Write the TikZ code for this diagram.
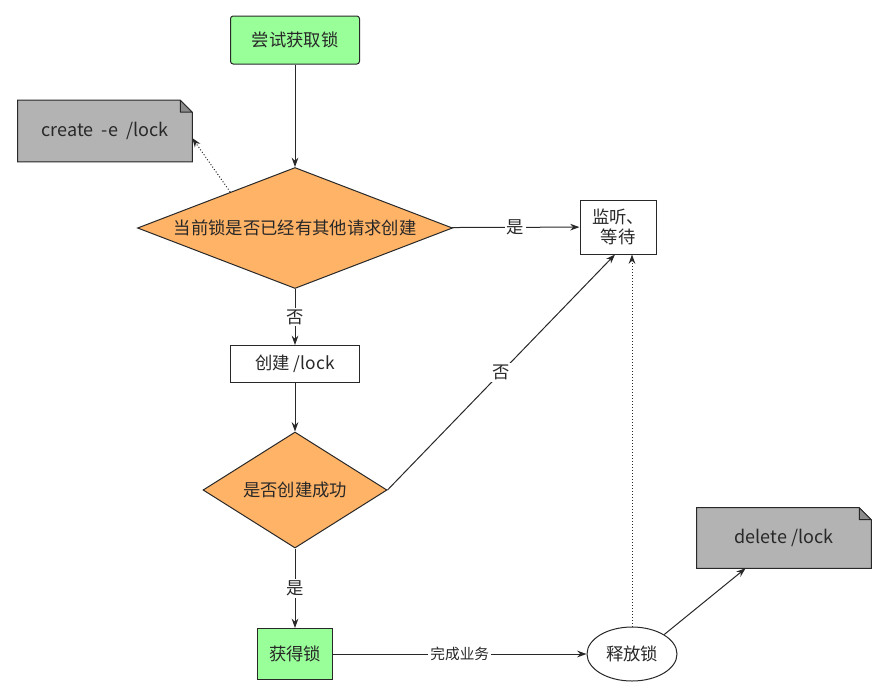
\documentclass[tikz,border=0pt]{standalone}
\usepackage{fontspec}
\setmainfont{Noto Sans CJK SC}
\usetikzlibrary{arrows.meta,shapes.geometric,calc,backgrounds}
\definecolor{lk_green}{RGB}{153, 255, 153}
\definecolor{lk_orange}{RGB}{255, 179, 102}
\definecolor{lk_gray}{RGB}{179, 179, 179}
\definecolor{lk_fold}{RGB}{140, 140, 140}
\definecolor{lk_line}{RGB}{40, 40, 40}
\tikzstyle{gb}=[rectangle,rounded corners=2pt,fill=lk_green,draw=lk_line,
  line width=0.75pt,inner sep=0pt,text=lk_line]
\tikzstyle{wb}=[rectangle,fill=white,draw=lk_line,
  line width=0.75pt,inner sep=0pt,text=lk_line]
\tikzstyle{od}=[diamond,fill=lk_orange,draw=lk_line,
  line width=0.75pt,inner sep=0pt,text=lk_line]
\tikzstyle{nt}=[rectangle,inner sep=0pt,text=lk_line]
\tikzstyle{el}=[ellipse,fill=white,draw=lk_line,
  line width=0.75pt,inner sep=0pt,text=lk_line]
\tikzstyle{ar}=[draw=lk_line,line width=0.75pt,-{Stealth[length=7pt,width=5pt]}]
\tikzstyle{dt}=[dash pattern=on 0.75pt off 1.5pt]
\tikzstyle{lb}=[fill=white,inner sep=1.5pt,text=lk_line]

\begin{document}
\begin{tikzpicture}[x=0.75pt, y=-0.75pt, font=\fontsize{13}{15}\selectfont]
        \useasboundingbox (0,0) rectangle (893,694);
		\node[style=gb, minimum width=96.75pt, minimum height=36pt] (try) at (295, 40) {尝试获取锁};
		\node[style=nt, minimum width=130.5pt, minimum height=45.75pt, font=\fontsize{13.5}{15}\selectfont] (cnote) at (105, 131) {create\ \ -e\ \ /lock};
		\node[style=od, shape aspect=2.6, minimum width=236.25pt, minimum height=90.75pt] (d1) at (295, 228) {当前锁是否已经有其他请求创建};
		\node[style=wb, minimum width=57pt, minimum height=40.5pt, align=center] (wait) at (618, 227) {监听、\\等待};
		\node[style=wb, minimum width=96.75pt, minimum height=27.75pt] (mk) at (295, 364) {创建 /lock};
		\node[style=od, shape aspect=1.59, minimum width=138pt, minimum height=87pt] (d2) at (295, 490) {是否创建成功};
		\node[style=gb, rounded corners=0pt, minimum width=56.25pt, minimum height=38.25pt] (got) at (295, 654) {获得锁};
		\node[style=el, minimum width=67.5pt, minimum height=40.5pt] (rel) at (632, 654) {释放锁};
		\node[style=nt, minimum width=130.5pt, minimum height=45pt, font=\fontsize{13.5}{15}\selectfont] (dnote) at (784, 538) {delete /lock};
		% note shapes behind the text
		\begin{scope}[on background layer]
		\foreach \n in {cnote, dnote} {
			\draw[fill=lk_gray, draw=lk_line, line width=0.75pt] (\n.south west) -- (\n.north west)
				-- ($(\n.north east)+(-12,0)$) -- ($(\n.north east)+(0,12)$) -- (\n.south east) -- cycle;
			\draw[fill=lk_fold, draw=lk_line, line width=0.75pt, line join=round] ($(\n.north east)+(-12,0)$)
				-- ($(\n.north east)+(-12,12)$) -- ($(\n.north east)+(0,12)$) -- cycle;
		}
		\end{scope}
		\draw[style=ar] (try) to (d1);
		\draw[style=ar] (d1) to node[style=lb] {是} (wait);
		\draw[style=ar] (d1) to node[style=lb] {否} (mk);
		\draw[style=ar, style=dt] ($(d1.west)!0.59!(d1.north)$) to ($(cnote.east)+(0,7)$);
		\draw[style=ar] (mk) to (d2);
		\draw[style=ar] (d2.east) to node[style=lb] {否} ($(wait.south)+(-3,0)$);
		\draw[style=ar] (d2) to node[style=lb] {是} (got);
		\draw[style=ar] (got) to node[style=lb, font=\fontsize{11}{13}\selectfont] {完成业务} (rel);
		\draw[style=ar, style=dt] (rel.north) to (rel.north |- wait.south);
		\draw[style=ar] (rel.north east) to ($(dnote.south west)!0.28!(dnote.south east)$);
    \end{tikzpicture}
\end{document}
